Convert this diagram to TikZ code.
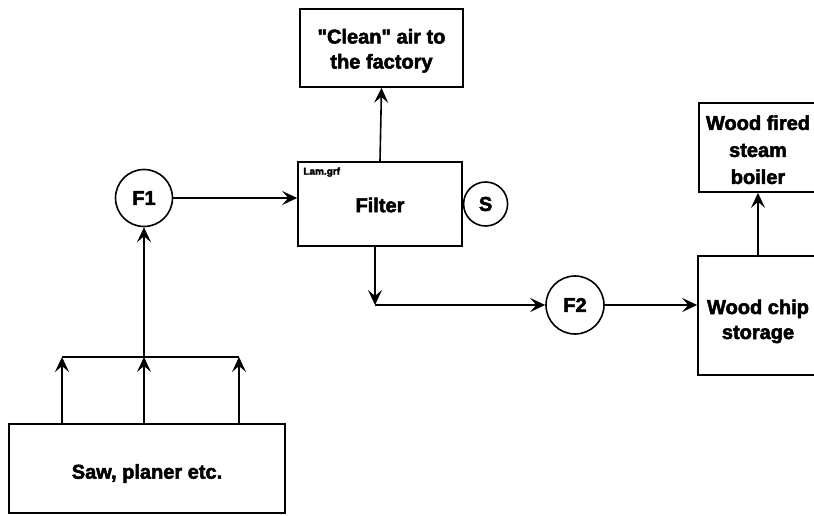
\documentclass[tikz,border=0pt]{standalone}
\usepackage{fontspec}
\setmainfont{Liberation Sans}[Ligatures=TeXOff,BoldFeatures={FakeBold=2.5}]
\usetikzlibrary{arrows.meta,calc}
\newcommand{\lowered}[2]{\raisebox{-#1}[\height][\depth]{#2}}
\tikzset{
  box/.style={draw,line width=1.6pt,inner sep=0pt,align=center,font=\fontsize{20}{25}\selectfont\bfseries},
  circ/.style={draw,circle,line width=1.6pt,inner sep=0pt,font=\fontsize{20}{24}\selectfont\bfseries},
  conn/.style={line width=1.6pt},
  arr/.style={conn,-{Stealth[length=15pt,width=14pt,inset=6pt]}}
}
\begin{document}
\begin{tikzpicture}[x=1pt,y=-1pt]
\useasboundingbox (0,0) rectangle (814,516);
\clip (0,0) rectangle (814,516);
\fill[white] (0,0) rectangle (814,516);
% boxes
\node[box,minimum width=163pt,minimum height=78pt] (clean) at (381.5,48) {\lowered{3pt}{\begin{tabular}{@{}c@{}}"Clean" air to\\the factory\end{tabular}}};
\node[box,minimum width=164pt,minimum height=84pt] (filter) at (380,204) {\lowered{1pt}{Filter}};
\node[anchor=north west,inner sep=0pt,font=\fontsize{10}{11}\selectfont\bfseries] (lam) at ($(filter.north west)+(6,6)$) {Lam.grf};
\node[circ,minimum size=44pt,anchor=west] (s) at (filter.east) {S};
\node[circ,minimum size=57pt] (f1) at (144,198) {F1};
\node[circ,minimum size=58pt] (f2) at (575,305) {F2};
\node[box,minimum width=118pt,minimum height=89pt,font=\fontsize{20}{27}\selectfont\bfseries] (boiler) at (758,147.5) {\lowered{4pt}{\begin{tabular}{@{}c@{}}Wood fired\\steam\\boiler\end{tabular}}};
\node[box,minimum width=120pt,minimum height=119pt] (chip) at (758,315.5) {\lowered{6pt}{\begin{tabular}{@{}c@{}}Wood chip\\storage\end{tabular}}};
\node[box,minimum width=276pt,minimum height=89pt] (saw) at (147,468.5) {\lowered{5pt}{Saw, planer etc.}};
% junction coordinates
\coordinate (s1) at (62,357);
\coordinate (s2) at (144,357);
\coordinate (s3) at (239,357);
\coordinate (j2) at (375,305);
% connectors
\draw[arr] (filter.north) -- (clean.south);
\draw[arr] (f1.east) -- (f1.east -| filter.west);
\draw[arr] (j2 |- filter.south) -- (j2);
\draw[arr] (j2) -- (f2.west);
\draw[arr] (f2.east) -- (f2.east -| chip.west);
\draw[arr] (chip.north) -- (boiler.south);
\draw[arr] (s1 |- saw.north) -- (s1);
\draw[arr] (s2 |- saw.north) -- (s2);
\draw[arr] (s3 |- saw.north) -- (s3);
\draw[conn] (s1) -- (s3);
\draw[arr] (s2) -- (f1.south);
\end{tikzpicture}
\end{document}
